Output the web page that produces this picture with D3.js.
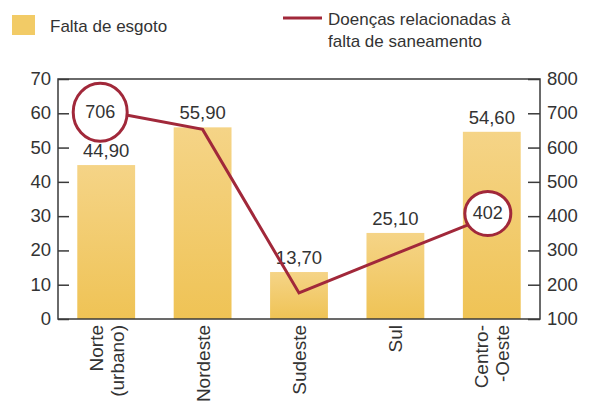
<!DOCTYPE html>
<html>
<head>
<meta charset="utf-8">
<script src="https://cdn.jsdelivr.net/npm/d3@7"></script>
<style>
  body { margin: 0; background: #fff; }
  text { font-family: "Liberation Sans", Arial, sans-serif; fill: #333; }
</style>
</head>
<body>
<script>
// data
var regions = [["Norte", "(urbano)"], ["Nordeste"], ["Sudeste"], ["Sul"], ["Centro-", "-Oeste"]];
var esgoto = [44.90, 55.90, 13.70, 25.10, 54.60];
var doencas = [706, 653, 176, 290, 402];
var circled = [0, 4];
var leftTicks = [0, 10, 20, 30, 40, 50, 60, 70];
var rightTicks = [100, 200, 300, 400, 500, 600, 700, 800];

var width = 606, height = 403;
var plot = {left: 58, right: 540, top: 79, bottom: 319};

var svg = d3.select("body").append("svg")
    .attr("width", width)
    .attr("height", height);

var defs = svg.append("defs");
var grad = defs.append("linearGradient")
    .attr("id", "barGrad")
    .attr("x1", 0).attr("y1", 0).attr("x2", 0).attr("y2", 1);
grad.append("stop").attr("offset", "0%").attr("stop-color", "#f5d487");
grad.append("stop").attr("offset", "100%").attr("stop-color", "#efc355");

var x = d3.scaleBand()
    .domain(d3.range(regions.length))
    .range([plot.left, plot.right])
    .paddingInner(0.4)
    .paddingOuter(0.2);

var yL = d3.scaleLinear().domain([0, 70]).range([plot.bottom, plot.top]);
var yR = d3.scaleLinear().domain([100, 800]).range([plot.bottom, plot.top]);

// bars
svg.selectAll(".bar")
    .data(esgoto)
    .enter().append("rect")
    .attr("class", "bar")
    .attr("x", function(d, i) { return x(i); })
    .attr("width", x.bandwidth())
    .attr("y", function(d) { return yL(d); })
    .attr("height", function(d) { return plot.bottom - yL(d); })
    .style("fill", "url(#barGrad)");

// bar labels
svg.selectAll(".barlabel")
    .data(esgoto)
    .enter().append("text")
    .attr("class", "barlabel")
    .attr("x", function(d, i) { return x(i) + x.bandwidth() / 2; })
    .attr("y", function(d) { return yL(d) - 8; })
    .attr("text-anchor", "middle")
    .style("font-size", "18.5px")
    .text(function(d) { return d.toFixed(2).replace(".", ","); });

// frame
var frame = "#3a3a3a";
svg.append("rect")
    .attr("x", plot.left).attr("y", plot.top)
    .attr("width", plot.right - plot.left)
    .attr("height", plot.bottom - plot.top)
    .style("fill", "none")
    .style("stroke", frame)
    .style("stroke-width", 1.5);

// left axis
var leftAxis = svg.append("g")
    .attr("transform", "translate(" + plot.left + ",0)")
    .call(d3.axisRight(yL).tickValues(leftTicks).tickSize(11).tickFormat(""));
leftAxis.select(".domain").remove();
leftAxis.selectAll("line").style("stroke", frame).style("stroke-width", 1.5);
svg.selectAll(".ltick")
    .data(leftTicks)
    .enter().append("text")
    .attr("x", 51)
    .attr("y", function(d) { return yL(d) + 6; })
    .attr("text-anchor", "end")
    .style("font-size", "18.5px")
    .text(function(d) { return d; });

// right axis
var rightAxis = svg.append("g")
    .attr("transform", "translate(" + plot.right + ",0)")
    .call(d3.axisLeft(yR).tickValues(rightTicks).tickSize(12).tickFormat(""));
rightAxis.select(".domain").remove();
rightAxis.selectAll("line").style("stroke", frame).style("stroke-width", 1.5);
svg.selectAll(".rtick")
    .data(rightTicks)
    .enter().append("text")
    .attr("x", 547)
    .attr("y", function(d) { return yR(d) + 6; })
    .attr("text-anchor", "start")
    .style("font-size", "18.5px")
    .text(function(d) { return d; });

// x labels (rotated)
regions.forEach(function(lines, i) {
    var cx = x(i) + x.bandwidth() / 2;
    lines.forEach(function(t, j) {
        var off = (j - (lines.length - 1) / 2) * 21;
        svg.append("text")
            .attr("transform", "translate(" + (cx + off + 7) + ",325) rotate(-90)")
            .attr("text-anchor", "end")
            .style("font-size", "19px")
            .text(t);
    });
});

// line
var red = "#a1283a";
var line = d3.line()
    .x(function(d, i) { return x(i) + x.bandwidth() / 2; })
    .y(function(d) { return yR(d); });
svg.append("path")
    .datum(doencas)
    .attr("d", line)
    .style("fill", "none")
    .style("stroke", red)
    .style("stroke-width", 3);

// circled values
var rad = {0: [27, 29], 4: [23, 22]};
circled.forEach(function(i) {
    var cx = x(i) + x.bandwidth() / 2 - (i == 0 ? 6 : 4);
    var cy = yR(doencas[i]) + (i == 0 ? 1 : -2);
    svg.append("ellipse")
        .attr("cx", cx).attr("cy", cy)
        .attr("rx", rad[i][0]).attr("ry", rad[i][1])
        .style("fill", "#fff")
        .style("stroke", red)
        .style("stroke-width", 3);
    svg.append("text")
        .attr("x", cx).attr("y", cy + 6)
        .attr("text-anchor", "middle")
        .style("font-size", "18px")
        .text(doencas[i]);
});

// legend
svg.append("rect")
    .attr("x", 12).attr("y", 15)
    .attr("width", 23).attr("height", 20)
    .style("fill", "#f2cb66");
svg.append("text")
    .attr("x", 50).attr("y", 32)
    .style("font-size", "17px")
    .text("Falta de esgoto");
svg.append("line")
    .attr("x1", 283).attr("x2", 322)
    .attr("y1", 18).attr("y2", 18)
    .style("stroke", red)
    .style("stroke-width", 3);
svg.append("text")
    .attr("x", 328).attr("y", 25)
    .style("font-size", "17px")
    .text("Doenças relacionadas à");
svg.append("text")
    .attr("x", 328).attr("y", 47)
    .style("font-size", "17px")
    .text("falta de saneamento");
</script>
</body>
</html>
